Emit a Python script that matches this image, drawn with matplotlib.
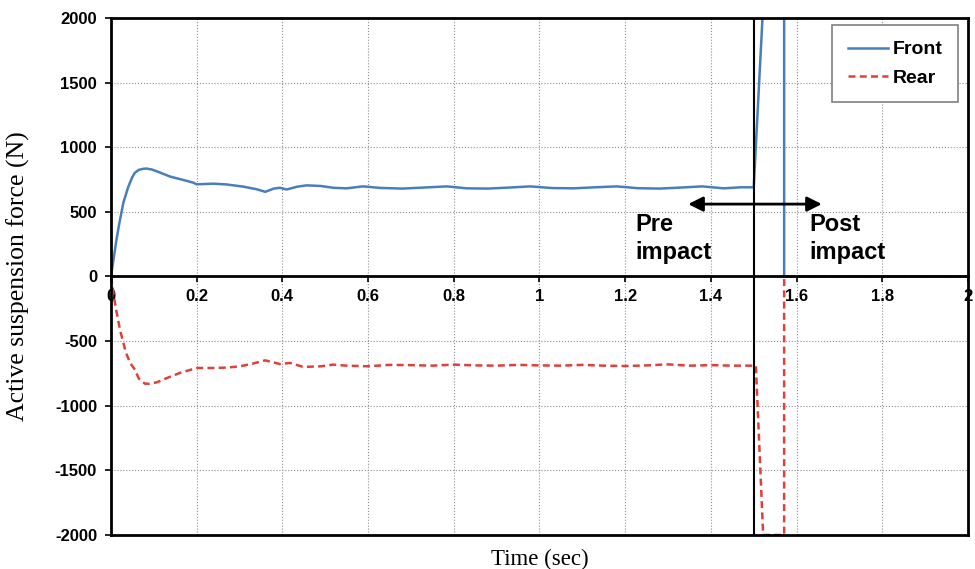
import matplotlib.pyplot as plt
from matplotlib.lines import Line2D

plt.rcParams['axes.unicode_minus'] = False

# Front suspension force (N) vs time (s)
time_front = [0, 0.005, 0.013, 0.02, 0.029, 0.04, 0.05, 0.056, 0.065, 0.075, 0.083, 0.095,
              0.11, 0.138, 0.165, 0.192, 0.2, 0.239, 0.27,
              0.309, 0.34, 0.36, 0.38, 0.394, 0.41, 0.435, 0.457, 0.49, 0.519, 0.55, 0.588,
              0.63, 0.68, 0.73, 0.784, 0.83, 0.88, 0.93, 0.978, 1.03, 1.08, 1.13, 1.18,
              1.23, 1.28, 1.33, 1.38, 1.43, 1.47, 1.5, 1.522, 1.571, 1.571, 2.0]
force_front = [0, 110, 287, 420, 571, 690, 770, 803, 825, 833, 835, 828,
               810, 773, 750, 726, 713, 718, 712,
               695, 675, 655, 680, 686, 673, 695, 705, 700, 686, 682, 697,
               685, 680, 688, 697, 682, 680, 688, 697, 684, 682, 690, 697,
               683, 680, 688, 697, 682, 690, 690, 2100, 2100, 0, 0]

# Rear suspension force (N) vs time (s)
time_rear = [0, 0.01, 0.021, 0.035, 0.045, 0.056, 0.065, 0.079, 0.09, 0.107, 0.135, 0.161,
             0.2, 0.239, 0.27, 0.301, 0.33,
             0.36, 0.394, 0.418, 0.449, 0.49, 0.519, 0.55, 0.6, 0.65, 0.7, 0.75, 0.8,
             0.85, 0.9, 0.95, 1.0, 1.05, 1.1, 1.15, 1.2, 1.25, 1.3, 1.35, 1.4, 1.45,
             1.495, 1.505, 1.522, 1.571, 1.571, 2.0]
force_rear = [0, -220, -411, -590, -670, -721, -790, -829, -830, -819, -780, -746,
              -708, -708, -705, -695, -675,
              -649, -677, -669, -700, -695, -682, -690, -695, -684, -686, -690, -682,
              -688, -690, -684, -688, -690, -684, -690, -693, -688, -680, -690, -686,
              -690, -690, -690, -2000, -2000, 0, 0]

x_ticks = [0, 0.2, 0.4, 0.6, 0.8, 1, 1.2, 1.4, 1.6, 1.8, 2]
x_tick_labels = ['0', '0.2', '0.4', '0.6', '0.8', '1', '1.2', '1.4', '1.6', '1.8', '2']
y_ticks = [-2000, -1500, -1000, -500, 0, 500, 1000, 1500, 2000]

fig = plt.figure(figsize=(9.75, 5.69), dpi=100)
ax = fig.add_axes([0.1138, 0.0598, 0.879, 0.9086])

ax.plot(time_front, force_front, color='#4a7ebb', lw=1.8, label='Front', zorder=3)
ax.plot(time_rear, force_rear, color='#e0403a', lw=1.8, ls=(0, (2.8, 1.7)),
        label='Rear', zorder=4)

ax.set_xlim(0, 2)
ax.set_ylim(-2000, 2000)
ax.set_xticks(x_ticks)
ax.set_xticklabels(x_tick_labels)
ax.set_yticks(y_ticks)

ax.grid(True, color='#8f8f8f', lw=0.8, ls=':')
ax.set_axisbelow(True)

# x axis runs through zero, frame closed at the bottom separately
ax.spines['bottom'].set_position(('data', 0))
for s in ax.spines.values():
    s.set_linewidth(2)
    s.set_color('black')
    s.set_zorder(5)
ax.add_line(Line2D([0, 1], [0, 0], transform=ax.transAxes, color='black',
                   lw=2, clip_on=False, zorder=5))

ax.tick_params(axis='both', direction='out', length=4, width=1.2, labelsize=12)
ax.tick_params(axis='y', pad=6)
ax.tick_params(axis='x', pad=5)
for lab in ax.get_xticklabels() + ax.get_yticklabels():
    lab.set_fontweight('bold')
    lab.set_fontfamily('Liberation Sans')

ax.set_xlabel('Time (sec)', fontsize=16.5, fontfamily='Liberation Serif')
ax.set_ylabel('Active suspension force (N)', fontsize=18.5, fontfamily='Liberation Serif')
ax.xaxis.set_label_coords(0.5, -0.026)
ax.yaxis.set_label_coords(-0.094, 0.5)

# impact instant
ax.axvline(1.5, color='black', lw=1.5, zorder=5)
ax.annotate('', xy=(1.347, 560), xytext=(1.659, 560),
            arrowprops=dict(arrowstyle='<|-|>', color='black', lw=2,
                            mutation_scale=22, shrinkA=0, shrinkB=0), zorder=6)
ax.text(1.223, 490, 'Pre\nimpact', fontsize=17, fontweight='bold',
        fontfamily='Liberation Sans', va='top', ha='left', linespacing=1.25)
ax.text(1.631, 490, 'Post\nimpact', fontsize=17, fontweight='bold',
        fontfamily='Liberation Sans', va='top', ha='left', linespacing=1.25)

leg = ax.legend(loc='upper right', bbox_to_anchor=(0.988, 0.986), borderaxespad=0,
                fancybox=False, framealpha=1, edgecolor='#808080', handlelength=2.1,
                handletextpad=0.2, borderpad=0.8, labelspacing=0.55,
                prop={'family': 'Liberation Sans', 'weight': 'bold', 'size': 14})
leg.get_frame().set_linewidth(1.2)

fig.savefig('out.png', dpi=100)
